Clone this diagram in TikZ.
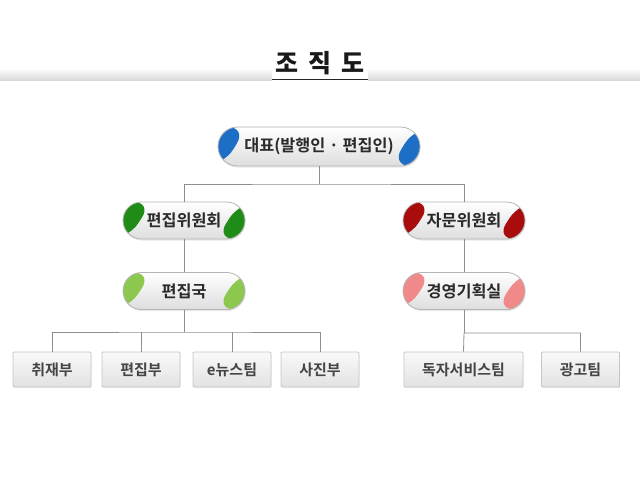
\documentclass[tikz,border=0pt]{standalone}
\usepackage{fontspec}
\setmainfont{Noto Sans CJK KR}[BoldFont={Noto Sans CJK KR Bold}]
\newfontfamily\titlefont{Noto Sans CJK KR Black}
\usetikzlibrary{shadows}
\definecolor{lineg}{HTML}{8E8E8E}
\definecolor{pillborder}{HTML}{B4B4B4}
\definecolor{pillbot}{HTML}{DEDEDE}
\definecolor{boxborder}{HTML}{C6C6C6}
\definecolor{boxtop}{HTML}{F9F9F9}
\definecolor{boxbot}{HTML}{E2E2E2}
\definecolor{txt}{HTML}{2A2A2A}
\definecolor{btxt}{HTML}{454545}
\definecolor{capblue}{HTML}{1C6FC4}
\definecolor{capdgreen}{HTML}{1E8C17}
\definecolor{caplgreen}{HTML}{8CC84E}
\definecolor{capdred}{HTML}{A80C0C}
\definecolor{cappink}{HTML}{F08A8A}
\definecolor{bandgray}{HTML}{D6D6D6}
\begin{document}
\begin{tikzpicture}[x=1pt,y=-1pt,
  pill/.style={draw=pillborder, line width=0.8pt, rounded corners=18.5pt,
    minimum width=122pt, minimum height=37pt, inner sep=0pt,
    top color=white, bottom color=pillbot,
    font=\bfseries\fontsize{16.3}{18}\selectfont, text=txt,
    drop shadow={opacity=0.18, shadow xshift=0.6pt, shadow yshift=-1.6pt},
    path picture={
      \fill[#1] ([xshift=29pt]path picture bounding box.north west)
        -- ([xshift=5pt]path picture bounding box.south west)
        -- ([xshift=-1pt]path picture bounding box.south west)
        -- ([xshift=-1pt]path picture bounding box.north west) -- cycle;
      \fill[#1] ([xshift=-29pt]path picture bounding box.south east)
        -- ([xshift=-5pt]path picture bounding box.north east)
        -- ([xshift=1pt]path picture bounding box.north east)
        -- ([xshift=1pt]path picture bounding box.south east) -- cycle;
    }},
  unitbox/.style={draw=boxborder, line width=0.8pt, rounded corners=1pt,
    minimum width=78pt, minimum height=35pt, inner sep=0pt,
    top color=boxtop, bottom color=boxbot,
    font=\bfseries\fontsize{15}{17}\selectfont, text=btxt,
    drop shadow={opacity=0.12, shadow xshift=0.5pt, shadow yshift=-1pt}},
  conn/.style={draw=lineg, line width=0.8pt},
  ]
\useasboundingbox[fill=white] (0,0) rectangle (640,492);

% title band
\shade[top color=white, bottom color=bandgray] (0,68) rectangle (272,81);
\shade[top color=white, bottom color=bandgray] (368,68) rectangle (640,81);
\node[font=\titlefont\fontsize{25}{27}\selectfont, text=black!90] (title) at (320,63) {조\hspace{0.4em}직\hspace{0.4em}도};
\draw[line width=1.6pt, black!85] (272,79.5) -- (368,79.5);

% nodes
\node[pill=capblue, minimum width=202pt, minimum height=39pt, rounded corners=19.5pt] (ceo) at (319,146.5) {대표(발행인 · 편집인)};
\node[pill=capdgreen] (ecom) at (184,220.5) {편집위원회};
\node[pill=caplgreen] (ebur) at (184,291) {편집국};
\node[pill=capdred] (acom) at (464,220.5) {자문위원회};
\node[pill=cappink] (plan) at (464,291) {경영기획실};

\node[unitbox] (b1) at (52,369.5) {취재부};
\node[unitbox] (b2) at (141,369.5) {편집부};
\node[unitbox] (b3) at (232,369.5) {e뉴스팀};
\node[unitbox] (b4) at (320,369.5) {사진부};
\node[unitbox, minimum width=119pt] (r1) at (463.5,369.5) {독자서비스팀};
\node[unitbox] (r2) at (580.5,369.5) {광고팀};

% connectors
\coordinate (j1) at (319,184);
\coordinate (j2) at (184,332);
\coordinate (j3) at (464,333);
\draw[conn] (ceo.south) -- (j1);
\draw[conn] (ecom.north) |- (j1) -| (acom.north);
\draw[conn] (ecom.south) -- (ebur.north);
\draw[conn] (acom.south) -- (plan.north);
\draw[conn] (ebur.south) -- (j2);
\draw[conn] (b1.north) |- (j2) -| (b4.north);
\draw[conn] (b2.north) -- (b2.north |- j2);
\draw[conn] (b3.north) -- (b3.north |- j2);
\draw[conn] (plan.south) -- (j3);
\draw[conn] (r1.north) -- (j3) -| (r2.north);
\end{tikzpicture}
\end{document}
